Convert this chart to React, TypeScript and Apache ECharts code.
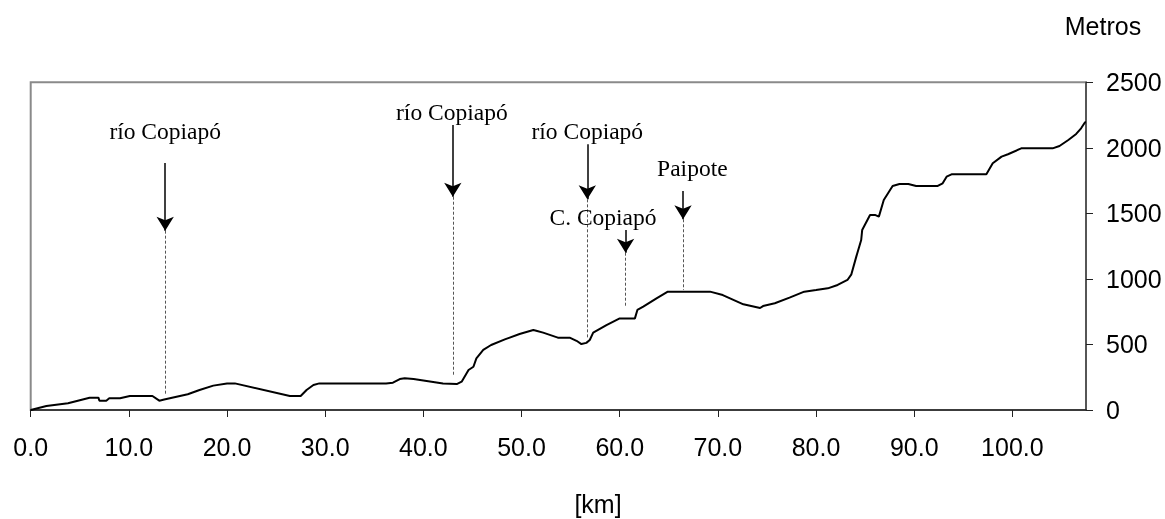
import React, { useEffect, useRef } from "react";
import * as echarts from "echarts";

// Elevation profile (km, metres)
const kmValues = [
  0, 1.6, 3.8, 6.0, 6.9, 7.0, 7.7, 8.0, 9.1, 10.1, 12.4, 13.1, 13.6, 16.0, 17.2, 18.6, 20.0, 20.8,
  26.4, 27.5, 28.1, 28.8, 29.4, 36.2, 36.9, 37.6, 38.1, 39.0, 42.0, 43.4, 43.9, 44.6, 45.1, 45.4,
  46.1, 46.9, 48.3, 49.8, 51.2, 51.5, 52.2, 53.7, 54.9, 55.6, 56.1, 56.6, 56.95, 57.3, 58.65, 60.0,
  61.55, 61.8, 62.4, 63.75, 64.9, 69.2, 70.5, 72.6, 74.3, 74.6, 75.8, 77.3, 78.8, 80.0, 81.2, 82.2,
  83.2, 83.6, 84.1, 84.6, 84.7, 85.5, 86.0, 86.4, 86.9, 87.8, 88.5, 89.4, 90.2, 92.4, 92.9, 93.3,
  93.8, 97.35, 98.0, 98.9, 99.55, 100.9, 104.1, 104.8, 105.7, 106.5, 107.0, 107.4, 107.5,
];
const elevValues = [
  0, 30, 51, 94, 94, 71, 71, 89, 89, 107, 107, 71, 80, 120, 153, 186, 203, 203,
  107, 107, 153, 191, 203, 203, 208, 236, 242, 236, 203, 198, 216, 305, 330, 394,
  458, 496, 539, 580, 610, 605, 590, 552, 552, 528, 503, 512, 534, 590, 648, 699,
  699, 763, 788, 852, 903, 903, 877, 806, 778, 793, 814, 857, 903, 915, 928, 954,
  992, 1035, 1170, 1297, 1373, 1488, 1488, 1475, 1602, 1709, 1724, 1724, 1709, 1709, 1729, 1780,
  1798, 1798, 1882, 1933, 1951, 1996, 1996, 2014, 2060, 2106, 2149, 2195, 2195,
];

// Annotations (data units)
const markerLabels = ["río Copiapó", "río Copiapó", "río Copiapó", "C. Copiapó", "Paipote"];
const markerKm = [13.7, 43.0, 56.7, 60.6, 66.45];
const labelKm = [13.7, 42.9, 56.7, 58.3, 67.4];
const labelElev = [2128, 2276, 2131, 1475, 1844];
const arrowTop = [1884, 2174, 2027, 1373, 1671];
const arrowTip = [1368, 1627, 1607, 1200, 1455];
const dashBottom = [120, 259, 547, 788, 915];

const xTicks = { min: 0, max: 107.5, interval: 10 };
const yTicks = { min: 0, max: 2500, interval: 500 };

export default function App() {
  const ref = useRef<HTMLDivElement>(null);
  useEffect(() => {
    if (!ref.current) return;
    const chart = echarts.init(ref.current, undefined, { renderer: "svg" });
    const profile = kmValues.map((k, i) => [k, elevValues[i]]);
    const arrows = markerKm.map((k, i) => [
      { coord: [k, arrowTop[i]], symbol: "none" },
      { coord: [k, arrowTip[i]], symbol: "arrow", symbolSize: [13, 14] },
    ]);
    const dashes = markerKm.map((k, i) => [
      { coord: [k, arrowTip[i]] },
      { coord: [k, dashBottom[i]] },
    ]);
    const labels = markerLabels.map((t, i) => ({
      coord: [labelKm[i], labelElev[i]],
      value: t,
      symbol: "circle",
      symbolSize: 1,
      itemStyle: { color: "rgba(0,0,0,0)" },
      label: {
        show: true,
        position: "inside",
        formatter: t,
        fontFamily: "Liberation Serif",
        fontSize: 23.5,
        color: "#000",
      },
    }));
    const sans = "Liberation Sans";
    chart.setOption({
      animation: false,
      grid: {
        show: true,
        left: 30.7,
        right: 79,
        top: 82.3,
        bottom: 109,
        containLabel: false,
        outerBoundsMode: "none",
        borderColor: "#8a8a8a",
        borderWidth: 2,
        backgroundColor: "transparent",
      },
      xAxis: {
        type: "value",
        min: xTicks.min,
        max: xTicks.max,
        interval: xTicks.interval,
        axisLine: { show: true, onZero: false, lineStyle: { color: "#222", width: 1.5 } },
        axisTick: { show: true, inside: false, length: 7, lineStyle: { color: "#222", width: 1 } },
        axisLabel: {
          showMaxLabel: false,
          margin: 24,
          fontFamily: sans,
          fontSize: 25,
          color: "#000",
          formatter: (v: number) => (Math.abs(v % 10) < 1e-9 ? v.toFixed(1) : ""),
        },
        splitLine: { show: false },
      },
      yAxis: {
        type: "value",
        position: "right",
        min: yTicks.min,
        max: yTicks.max,
        interval: yTicks.interval,
        axisLine: { show: true, onZero: false, lineStyle: { color: "#444", width: 1.5 } },
        axisTick: { show: true, inside: false, length: 7, lineStyle: { color: "#222", width: 1 } },
        axisLabel: {
          margin: 20,
          fontFamily: sans,
          fontSize: 25,
          color: "#000",
          formatter: (v: number) => String(v),
        },
        splitLine: { show: false },
      },
      graphic: [
        {
          type: "text",
          x: 1103,
          y: 26,
          style: {
            text: "Metros",
            fontFamily: sans,
            fontSize: 25,
            fill: "#000",
            textAlign: "center",
            textVerticalAlign: "middle",
          },
        },
        {
          type: "text",
          x: 598,
          y: 504,
          style: {
            text: "[km]",
            fontFamily: sans,
            fontSize: 25,
            fill: "#000",
            textAlign: "center",
            textVerticalAlign: "middle",
          },
        },
      ],
      series: [
        {
          type: "line",
          data: profile,
          showSymbol: false,
          symbol: "none",
          lineStyle: { color: "#000", width: 2 },
          silent: true,
          z: 3,
        },
        {
          type: "line",
          data: [],
          silent: true,
          markLine: {
            silent: true,
            animation: false,
            symbol: ["none", "none"],
            label: { show: false },
            lineStyle: { color: "#555", width: 1, type: [3, 2] },
            data: dashes,
          },
        },
        {
          type: "line",
          data: [],
          silent: true,
          markLine: {
            silent: true,
            animation: false,
            symbol: ["none", "arrow"],
            symbolSize: [13, 14],
            label: { show: false },
            lineStyle: { color: "#000", width: 1.5, type: "solid" },
            itemStyle: { color: "#000" },
            data: arrows,
          },
          markPoint: {
            silent: true,
            animation: false,
            data: labels,
          },
        },
      ],
    });
    return () => chart.dispose();
  }, []);
  return (
    <div
      ref={ref}
      style={{ position: "fixed", left: 0, top: 0, width: 1165, height: 519 }}
    />
  );
}
